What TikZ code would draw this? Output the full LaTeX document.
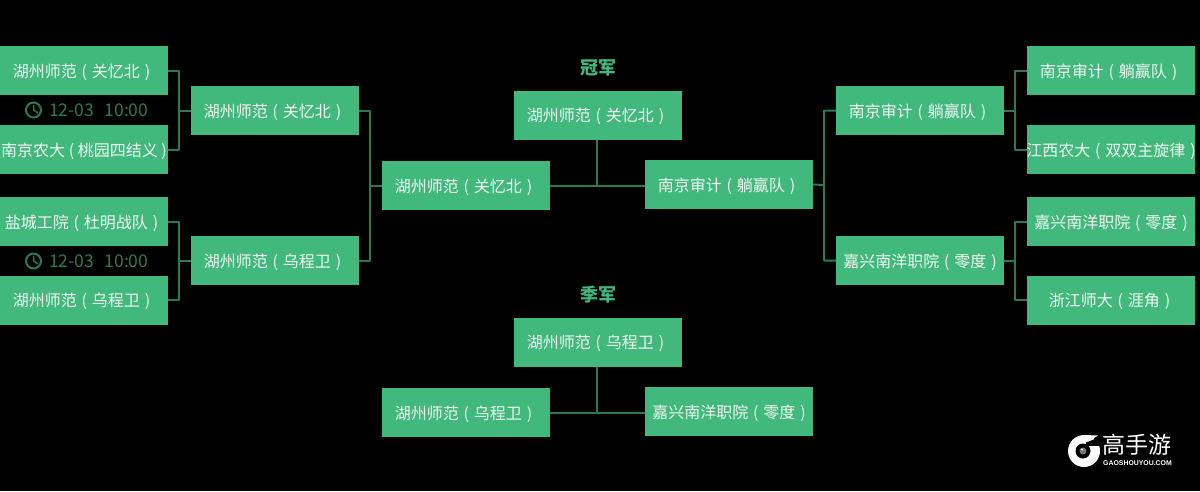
\documentclass[tikz,border=0pt]{standalone}
\usepackage{fontspec}
\setmainfont[WordSpace=1.35]{Noto Sans CJK SC}
\setsansfont{Liberation Sans}
\definecolor{teamgreen}{HTML}{41B87C}
\definecolor{wiregreen}{HTML}{2A7B50}
\definecolor{teamwhite}{HTML}{F1F7F3}
\newcommand\widename[1]{\makebox[160pt][c]{#1}}
\begin{document}
\begin{tikzpicture}[x=1pt,y=-1pt,line join=round,
    team/.style={fill=teamgreen,text=teamwhite,minimum width=168pt,minimum height=49pt,inner sep=0pt,text height=14pt,text depth=1pt,font=\fontsize{16}{16}\selectfont},
    wire/.style={draw=wiregreen,line width=2pt},
    title/.style={text=teamgreen,font=\fontsize{18}{18}\selectfont\bfseries},
    clocktext/.style={text=wiregreen,anchor=west,inner sep=0pt,font=\fontsize{17.5}{17.5}\selectfont}]
    \fill[black] (0,0) rectangle (1200,491);
    \useasboundingbox (0,0) rectangle (1200,491);
    \def\gyb{湖州师范 ( 关忆北 )\kern5pt}
    \def\wcw{湖州师范 ( 乌程卫 )\kern5pt}
    \def\nys{南京审计 ( 躺赢队 )\kern5pt}
    \def\lyd{嘉兴南洋职院 ( 零度 )}
    % left half
    \node[team] (la) at (84,70.5) {\gyb};
    \node[team] (lb) at (84,149.5) {\widename{\spaceskip=3.6pt 南京农大 ( 桃园四结义 )}};
    \node[team] (lc) at (84,221.5) {盐城工院 ( 杜明战队 )\kern5pt};
    \node[team] (ld) at (84,300) {\wcw};
    \node[team] (lm) at (275,110.5) {\gyb};
    \node[team] (ln) at (275,260.5) {\wcw};
    \node[team] (lf) at (466,185.5) {\gyb};
    % right half
    \node[team] (ra) at (1111,70.5) {\nys};
    \node[team] (rb) at (1111,149.5) {\widename{江西农大 ( 双双主旋律 )}};
    \node[team] (rc) at (1111,221.5) {\lyd};
    \node[team] (rd) at (1111,300) {浙江师大 ( 涯角 )\kern3pt};
    \node[team] (rm) at (920,110.5) {\nys};
    \node[team] (rn) at (920,260.5) {\lyd};
    \node[team] (rf) at (729,184.5) {\nys};
    % finals
    \node[title] (champ) at (598,68) {冠军};
    \node[team] (win) at (598,115) {\gyb};
    \node[title] (third) at (598,295) {季军};
    \node[team] (bwin) at (598,342) {\wcw};
    \node[team] (bl) at (466,412.5) {\wcw};
    \node[team] (br) at (729,411.5) {\lyd};
    \coordinate (busa) at (179,110.5);
    \coordinate (busb) at (179,260.5);
    \coordinate (busc) at (370,185.5);
    \coordinate (busd) at (1015,110.5);
    \coordinate (buse) at (1015,260.5);
    \coordinate (busf) at (824,185);
    \coordinate (mida) at (597,185.5);
    \coordinate (midb) at (597,412.5);
    \draw[wire] (la.east) -| (busa) |- (lb.east) (busa) -- (lm.west);
    \draw[wire] (lc.east) -| (busb) |- (ld.east) (busb) -- (ln.west);
    \draw[wire] (lm.east) -| (busc) |- (ln.east) (busc) -- (lf.west);
    \draw[wire] (ra.west) -| (busd) |- (rb.west) (busd) -- (rm.east);
    \draw[wire] (rc.west) -| (buse) |- (rd.west) (buse) -- (rn.east);
    \draw[wire] (rm.west) -| (busf) |- (rn.west) (busf) -- (rf.east);
    \draw[wire] (lf.east) -- (mida) -- (rf.west |- mida);
    \draw[wire] (win.south -| mida) -- (mida);
    \draw[wire] (bl.east) -- (midb) -- (br.west |- midb);
    \draw[wire] (bwin.south -| midb) -- (midb);
    % match times
    \foreach \y/\n in {110/ta,261/tb}{
        \draw[wiregreen,line width=2pt] (33.5,\y) circle(7.5pt);
        \draw[wiregreen,line width=1.5pt] (33.5,\y-5) -- (33.5,\y) -- (38,\y+3);
        \node[clocktext] (\n) at (49,\y) {12-03\ \ 10:00};
    }
    % logo
    \fill[white] (1084,451) circle(16pt);
    \fill[white] (1084,435) -- (1098,435.5) -- (1086,443) -- cycle;
    \fill[black] (1086,442.5) -- (1100,437) -- (1102,446) -- (1086,446) -- cycle;
    \fill[white] (1086,446) rectangle (1099,451);
    \fill[black] (1083,451) circle(7.5pt);
    \fill[black!55] (1083,451) circle(3.5pt);
    \fill[white] (1082,449.5) circle(1.2pt);
    \node[text=white,anchor=west,inner sep=0pt,font=\fontsize{23}{23}\selectfont] (logo) at (1102,445) {高手游};
    \node[text=white,anchor=west,inner sep=0pt,font=\sffamily\bfseries\fontsize{6.9}{8}\selectfont] (site) at (1103,463) {GAOSHOUYOU.COM};
\end{tikzpicture}
\end{document}
